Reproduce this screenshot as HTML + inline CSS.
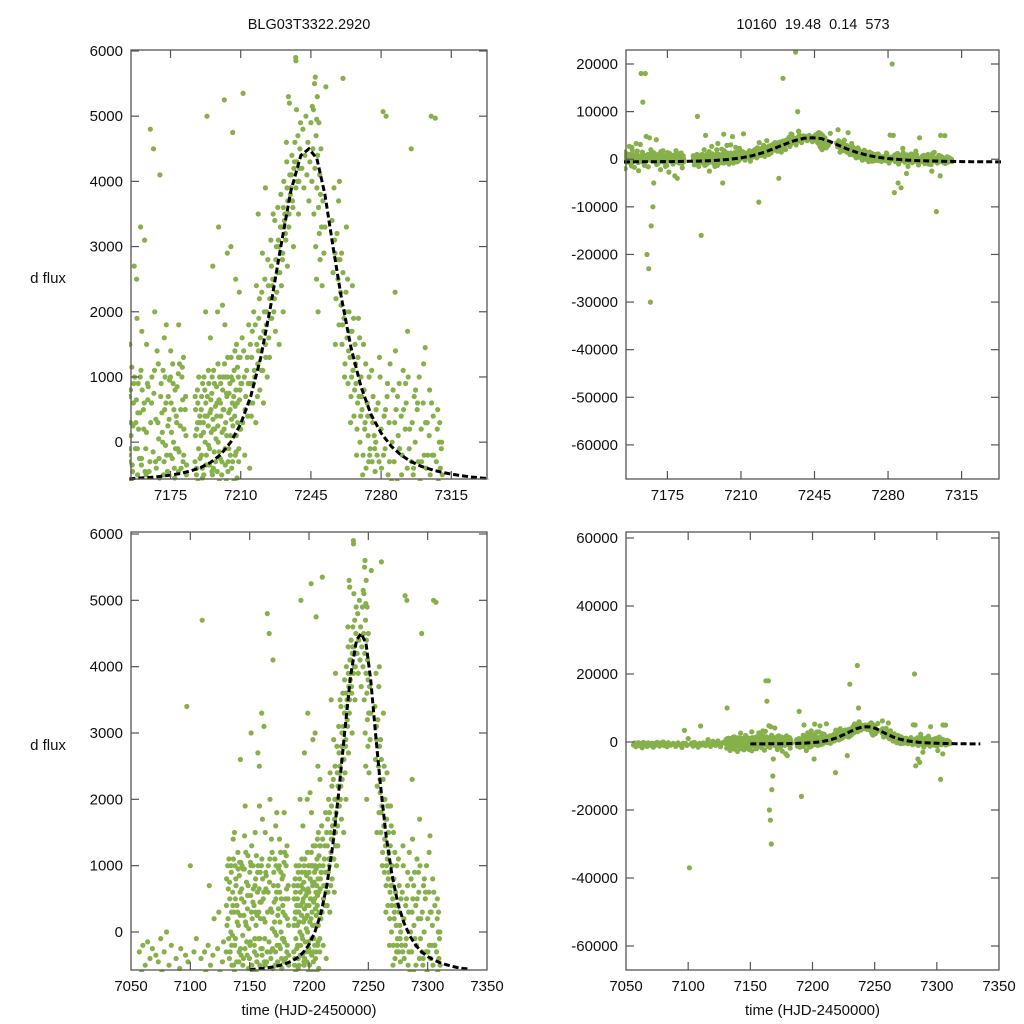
<!DOCTYPE html>
<html><head><meta charset="utf-8">
<style>
html,body{margin:0;padding:0;background:#fff;}
svg{display:block;font-family:"Liberation Sans",sans-serif;}
</style></head>
<body>
<svg id="chart" width="1024" height="1024" viewBox="0 0 1024 1024" xmlns="http://www.w3.org/2000/svg">
<rect width="1024" height="1024" fill="#fff"/>
</svg>
<script>
// ---- data: observations [time, dflux] pairs ----
const segA = [7056,-900,7057,-300,7058,-1400,7059,-600,7060,-200,7061,-1100,7062,-500,7063,-1700,7064,-150,7065,-800,7066,-400,7067,-1300,7068,-250,7069,-700,7070,-1000,7071,-350,7072,-1500,7073,-450,7074,-900,7075,-100,7076,-600,7077,-1200,7078,-300,7079,-800,7080,0,7081,-1100,7082,-500,7083,-1400,7084,-200,7085,-700,7086,-950,7088,-400,7090,-1300,7091,-550,7092,-250,7093,-850,7095,-1600,7096,-350,7097,3400,7098,-450,7099,-1000,7100,1000,7101,-37000,7102,-650,7103,-300,7104,-1200,7105,-100,7106,-800,7108,-1500,7109,-400,7110,4700,7111,-900,7112,-300,7113,-600,7114,-1100,7115,-200,7116,700,7117,-500,7118,-1300,7119,-350,7120,200,7121,-750,7122,-1000,7123,-250,7124,300,7125,-600,7126,-1400,7127,-450,7128,-150];
const segB = [7130.2,-300,7130.6,800,7131.0,-1800,7131.3,10000,7131.7,200,7132.1,-900,7132.5,1100,7132.9,-400,7133.3,500,7133.7,-2500,7134.1,0,7134.5,900,7134.9,-200,7135.3,-1300,7135.7,600,7136.1,1400,7136.5,-500,7136.9,300,7137.3,-2100,7137.7,1000,7138.1,-100,7138.5,700,7138.9,-800,7139.3,400,7139.7,-2800,7140.1,1200,7140.5,100,7140.9,-450,7141.3,850,7141.7,-1600,7142.1,250,7142.5,1050,7142.9,-350,7143.3,650,7143.7,-1100,7144.1,-50,7144.5,950,7144.9,-2300,7145.3,450,7145.7,1450,7146.1,-250,7146.5,150,7146.9,-700,7147.3,750,7147.7,-1900,7148.1,350,7148.5,1150,7148.9,-550,7149.3,50,7149.7,-1400,7150.1,900,7150.5,-150,7150.9,550,7151.3,-2600,7151.7,1300,7152.1,200,7152.5,-600,7152.9,1000,7153.3,-1200,7153.7,400,7154.1,-300,7154.5,700,7154.9,-2000,7155.3,100,7155.7,1150,7156.1,-450,7156.5,600,7156.9,2700,7157.3,-800,7157.7,300,7158.1,2500,7158.5,-100,7158.9,900,7159.3,-1700,7159.7,450,7160.1,3300,7160.5,-350,7160.9,800,7161.3,-2400,7161.7,200,7162.1,3100,7162.5,18000,7162.9,-500,7163.3,12000,7163.7,650,7164.1,-1300,7164.5,18000,7164.9,4800,7165.3,-20000,7165.7,1000,7166.1,-23000,7166.5,4500,7166.9,-30000,7167.3,-14000,7167.7,350,7168.1,-10000,7168.5,-5000,7168.9,1200,7169.3,-250,7169.7,4100,7170.1,700,7170.5,-900,7170.9,150,7171.3,1100,7171.7,-2200,7172.1,500,7172.5,-50,7172.9,1800,7173.3,-650,7173.7,250,7174.1,-1500,7174.5,950,7174.9,-200,7175.3,600,7175.7,-2700,7176.1,1200,7176.5,0,7176.9,-400,7177.3,800,7177.7,-1000,7178.1,300,7178.5,-3500,7178.9,1050,7179.3,-150,7179.7,-4000,7180.1,500,7180.5,-800,7180.9,1150,7181.3,-300,7181.7,200,7182.1,-1800,7182.5,700,7182.9,-500,
7130.4,400,7130.8,-700,7131.5,1000,7132.3,-100,7133.1,750,7133.9,-1500,7134.7,300,7135.5,-50,7136.3,1100,7137.1,-600,7137.9,500,7138.7,-1200,7139.5,150,7140.3,950,7141.1,-300,7141.9,600,7142.7,-2000,7143.5,1000,7144.3,-500,7145.1,250,7145.9,-900,7146.7,1200,7147.5,-150,7148.3,550,7149.1,-2200,7149.9,-400,7150.7,1050,7151.5,300,7152.3,-1000,7153.1,650,7153.9,-200,7154.7,1500,7155.5,-600,7156.3,250,7157.1,1000,7157.9,-1400,7158.7,450,7159.5,-250,7160.3,1100,7161.1,-700,7161.9,600,7162.7,-100,7163.5,900,7164.3,-450,7165.1,300,7165.9,-1600,7166.7,750,7167.5,-300,7168.3,1400,7169.1,50,7169.9,-1100,7170.7,450,7171.5,-500,7172.3,1000,7173.1,-200,7173.9,700,7174.7,-1300,7175.5,150,7176.3,900,7177.1,-550,7177.9,400,7178.7,-100,7179.5,1200,7180.3,-400,7181.1,650,7181.9,-900,7182.7,100,
7158.3,1900,7160.7,1700,7163.1,1500,7167.1,2000,7171.9,1600,7175.1,1400,7179.1,1800,7181.5,1300,7142.2,2600,7146.2,1900,7151.2,3000,7137.2,1500];
const segB2 = [7155.1,300,7155.9,-350,7156.7,900,7157.5,-100,7158.0,650,7158.6,-500,7159.1,200,7159.9,1000,7160.6,-250,7161.5,500,7162.3,-450,7163.0,150,7163.9,850,7164.7,-300,7165.5,600,7166.3,-150,7167.0,1100,7167.9,-400,7168.7,300,7169.5,-550,7170.3,900,7171.1,0,7171.8,-300,7172.7,600,7173.5,-450,7174.3,350,7175.0,1000,7175.9,-250,7176.7,500,7177.5,-100,7178.3,850,7179.0,-450,7179.9,250,7180.7,1000,7181.6,-200,7182.3,500,7183.0,-350,
7130.9,100,7132.0,650,7133.5,-300,7134.3,1000,7135.0,-500,7135.9,400,7137.5,-200,7138.3,800,7139.1,-450,7139.9,300,7141.5,1050,7142.3,-250,7143.1,500,7144.7,-400,7145.5,950,7147.1,100,7147.9,-350,7148.7,700,7150.3,-200,7151.1,1000,7151.9,-500,7152.7,450,7154.3,-100,7155.0,800];
const segC = [7187.2,-300,7187.5,500,7187.8,-1200,7188.1,200,7188.4,800,7188.7,-600,7189.0,-100,7189.3,9000,7189.6,400,7189.9,-1500,7190.2,100,7190.5,700,7190.8,-400,7191.1,-16000,7191.4,300,7191.7,1000,7192.0,-800,7192.3,0,7192.6,600,7192.9,-200,7193.2,5000,7193.5,-1100,7193.8,250,7194.1,900,7194.4,-350,7194.7,450,7195.0,-2500,7195.3,150,7195.6,750,7195.9,-500,7196.2,350,7196.5,1100,7196.8,-150,7197.1,-900,7197.4,550,7197.7,50,7198.0,850,7198.3,-450,7198.6,250,7198.9,-1300,7199.2,650,7199.5,1000,7199.8,-250,7200.1,400,7200.4,-700,7200.7,150,7201.0,800,7201.3,-5000,7201.6,500,7201.9,1200,7202.2,-100,7202.5,300,7202.8,-600,7203.1,700,7203.4,1000,7203.7,-300,7204.0,450,7204.3,-1000,7204.6,900,7204.9,100,7205.2,1300,7205.5,-400,7205.8,600,7206.1,250,7206.4,-800,7206.7,1100,7207.0,400,7207.3,-200,7207.6,800,7207.9,1500,7208.2,-550,7208.5,300,7208.8,1000,7209.1,-100,7209.4,650,7209.7,1300,7210.0,200,
7187.4,100,7188.0,-400,7188.6,600,7189.2,-900,7189.8,300,7190.4,-200,7191.0,900,7191.6,-500,7192.2,400,7192.8,-1300,7193.4,700,7194.0,-50,7194.6,-700,7195.2,500,7195.8,1000,7196.4,-400,7197.0,200,7197.6,-1500,7198.2,600,7198.8,0,7199.4,-600,7200.0,900,7200.6,-300,7201.2,500,7201.8,-800,7202.4,1000,7203.0,100,7203.6,-450,7204.2,750,7204.8,-200,7205.4,350,7206.0,950,7206.6,-600,7207.2,550,7207.8,100,7208.4,1150,7209.0,-300,7209.6,800,
7192.5,2000,7196.1,2700,7198.5,2000,7200.9,2100,7203.3,2900,7205.1,3000,7207.5,2500,7209.3,2300,7194.9,1600,7202.1,1800,7199.0,3300,7201.8,5250,7206.0,4750];
const segC2 = [7187.3,700,7187.9,-500,7188.5,300,7189.1,1000,7189.7,-250,7190.3,500,7190.9,-550,7191.5,150,7192.1,800,7192.7,-350,7193.3,400,7193.9,1100,7194.5,-100,7195.1,650,7195.7,-450,7196.3,200,7196.9,900,7197.5,-300,7198.1,400,7198.7,1200,7199.3,-150,7199.9,600,7200.5,-500,7201.1,1000,7201.7,200,7202.3,-350,7202.9,750,7203.5,1300,7204.1,-100,7204.7,500,7205.3,1000,7205.9,-300,7206.5,700,7207.1,1400,7207.7,-150,7208.3,600,7208.9,1300,7209.5,200,7210.1,900,7210.7,1600];
const segD = [7210.5,900,7211,300,7211.5,1400,7212,-200,7212.5,700,7213,1100,7213.5,400,7214,1800,7214.5,-400,7215,900,7215.5,1300,7216,600,7216.5,2000,7217,1000,7217.5,300,7218,1500,7218.5,-9000,7218.5,1200,7219,1900,7219.5,800,7220,1400,7220.5,2300,7221,1100,7221.5,1700,7222,2500,7222.5,1300,7223,2000,7223.5,2800,7224,1600,7224.5,2200,7225,3100,7225.5,1900,7226,2500,7226.5,2000,7227,3400,7227.5,2800,7228,-4000,7228,2300,7228.5,3600,7229,3000,7229.5,2600,7230,17000,7230,3800,7230.5,3300,7231,2900,7231.5,4000,7232,3500,7232.5,3100,7233,4300,7233.5,3700,7234,3300,7234.5,4100,7235,3900,7235.5,4400,7236,22500,7236,3600,7236.5,4200,7237,10000,7237,4600,7237.5,3900,7238,4300,7238.5,4700,7239,4000,7239.5,4500,
7212.2,500,7213.8,900,7215.3,400,7216.8,1100,7218.3,700,7219.8,1600,7221.3,600,7222.8,1800,7224.3,1300,7225.8,2400,7227.3,1700,7228.8,3100,7230.3,2400,7231.8,3400,7233.3,2700,7234.8,3800,7236.3,3000,7237.8,5100,7238.8,3500,7239.8,4900,7232.8,4600,7231.2,2000,7229.2,1500,7226.2,3500,7223.2,1000,7220.8,2900,7217.8,2400,7214.8,1500,7233.8,5300,7237.4,5900,7237.5,5850,7234.3,5200,7218.7,3500,7222.3,3900,7211.2,5350];
const segD2 = [7211.8,1000,7213.3,1300,7214.3,600,7215.8,1700,7216.3,900,7217.3,1800,7218.8,1400,7219.3,2200,7220.3,1100,7221.8,2000,7222.3,1500,7223.8,2400,7224.8,1900,7225.3,2700,7226.8,2200,7227.8,3000,7228.3,2600,7229.8,3300,7230.8,2800,7231.3,3600,7232.3,3200,7233.1,3900,7234.1,3500,7235.2,4100,7235.8,3700,7236.8,4300,7238.3,4000,7239.3,4200];
const segE = [7240.5,4200,7241,4800,7241.5,3900,7242,4400,7242.5,5000,7243,4100,7243.5,4600,7244,3700,7244.5,4300,7245,4900,7245.5,4000,7246,4500,7246.5,3500,7246.8,5500,7247,4200,7247.2,5600,7247.4,3000,7247.6,4700,7247.8,2500,7248,3900,7248.2,5300,7248.4,4400,7248.6,2000,7248.8,3600,7249,4900,7249.2,3200,7249.4,4100,7249.6,2800,7249.8,3800,7250,4500,7250.3,3300,7250.6,2400,7251,3700,7251.5,2900,7252,3300,7246.3,5100,7245.7,5150,7247.9,4950,7252.5,5450,7261,5580];
const segF = [7255.5,3400,7256,2600,7256.5,3900,7257,2900,7257.5,2200,7258,3200,7258.5,2500,7259,1800,7259.5,2800,7260,2100,7260.5,1500,7261,2600,7261.5,1900,7262,1200,7262.5,2300,7263,1600,7263.5,900,7264,2000,7264.5,1300,7265,700,7265.5,1700,7266,1100,7266.5,400,7267,1500,7267.5,900,7268,200,7268.5,1300,7269,700,7269.5,0,7270,1000,7270.5,500,7271,-200,7271.5,800,7272,300,7272.5,-400,7273,600,7273.5,100,7274,1000,7274.5,-100,7275,400,7275.5,-300,7276,700,7276.5,100,7277,-450,7277.5,500,7278,-200,
7257.2,1500,7258.8,3700,7260.3,2900,7261.8,1000,7263.3,2500,7264.8,300,7266.3,1900,7267.8,-200,7269.3,1600,7270.8,-500,7272.3,1200,7273.8,-300,7275.3,1100,7276.8,-100,7262.7,3300,7259.2,4000,7265.7,2400,7268.7,1900,7271.2,1500,7256.2,6200];
const segF2 = [7256.8,3100,7258.3,2800,7259.8,2300,7260.8,1800,7262.2,2000,7263.8,1400,7264.3,1700,7265.3,1000,7266.8,800,7267.3,1200,7268.3,600,7269.8,400,7270.3,700,7271.8,200,7273.3,400,7274.3,-200,7275.8,300,7277.3,0];
const segG = [7278.5,600,7279,-300,7279.5,1000,7280,200,7280.5,-800,7281,5070,7281.5,400,7282,20000,7282,-100,7282.5,5000,7283,-7000,7283,700,7283.5,-500,7284,300,7284.5,1200,7285,-1000,7285.5,0,7286,800,7286.5,-300,7287,2300,7287.5,500,7288,-600,7288.5,100,7289,900,7289.5,-1500,7290,400,7290.5,-200,7291,1100,7291.5,-700,7292,200,7292.5,600,7293,-400,7293.5,1000,7294,-100,7294.5,-1200,7295,4500,7295.5,300,7296,-500,7296.5,700,7297,0,7297.5,-900,7298,500,7298.5,-300,7299,1000,7299.5,-600,7300,200,7300.5,-1100,7301,600,7301.5,-200,7302,1450,7302.5,-400,7303,-11000,7303,300,7303.5,-800,7304,100,7304.5,-500,7305,5000,7305.5,-200,7306,400,7306.5,-700,7307,4970,7307.5,-300,7308,200,7308.5,-600,7309,0,7309.5,-400,7310,-100,7310.5,-500,
7279.2,1300,7281.2,-200,7283.2,900,7285.2,-600,7287.2,1400,7289.2,-100,7291.2,500,7293.2,1700,7295.2,-300,7297.2,800,7299.2,-1000,7301.2,1200,7303.3,-200,7305.2,600,7307.2,-900,7309.2,300,7284.8,-5000,7286.2,-6000,7288.8,-3000,7300.8,-2500,7304.8,-3500];
const segG2 = [7280.2,-400,7282.2,500,7284.2,-300,7286.8,300,7288.2,700,7290.2,-500,7292.2,900,7294.2,200,7296.2,-400,7298.2,600,7300.2,-300,7302.2,300,7304.2,800,7306.2,-200,7308.2,500,7310.2,0];
// model curve
const modelT = [7150,7155,7160,7165,7170,7175,7180,7185,7190,7195,7200,7205,7210,7215,7220,7225,7230,7235,7240,7244,7248,7252,7256,7260,7265,7270,7275,7280,7285,7290,7295,7300,7305,7310,7315,7320,7325,7330,7335];
const modelF = [-570,-560,-550,-540,-525,-505,-480,-440,-390,-310,-190,0,280,700,1300,2100,3000,3850,4400,4500,4350,3800,3000,2250,1450,850,420,140,-60,-200,-300,-370,-420,-460,-490,-515,-535,-550,-560];
// ticks
const ticksXTop = [7175,7210,7245,7280,7315];
const ticksXBot = [7050,7100,7150,7200,7250,7300,7350];
const ticksYLeft = [0,1000,2000,3000,4000,5000,6000];
const ticksYTR = [-60000,-50000,-40000,-30000,-20000,-10000,0,10000,20000];
const ticksYBR = [-60000,-40000,-20000,0,20000,40000,60000];

const NS = "http://www.w3.org/2000/svg";
const svg = document.getElementById('chart');
function mk(tag, attrs, parent){const e=document.createElementNS(NS,tag);for(const k in attrs)e.setAttribute(k,attrs[k]);(parent||svg).appendChild(e);return e;}
const allSegs=[segA,segB,segB2,segC,segC2,segD,segD2,segE,segF,segF2,segG,segG2];

const panels = [
 {id:'top-left',x0:131,x1:487,y0:50,y1:479,tx:[7155.3,7332.8],ty:[-565,6015],xt:ticksXTop,yt:ticksYLeft,xlabel:false},
 {id:'top-right',x0:626,x1:999,y0:50,y1:479,tx:[7155.3,7332.8],ty:[-67160,22940],xt:ticksXTop,yt:ticksYTR,xlabel:false},
 {id:'bottom-left',x0:131,x1:487,y0:532,y1:970,tx:[7050,7350],ty:[-573,6030],xt:ticksXBot,yt:ticksYLeft,xlabel:true},
 {id:'bottom-right',x0:626,x1:999,y0:532,y1:970,tx:[7050,7350],ty:[-67060,61760],xt:ticksXBot,yt:ticksYBR,xlabel:true}
];

panels.forEach((p,pi)=>{
  const g=mk('g',{});
  
  
  const sx=t=>p.x0+(t-p.tx[0])/(p.tx[1]-p.tx[0])*(p.x1-p.x0);
  const sy=f=>p.y1-(f-p.ty[0])/(p.ty[1]-p.ty[0])*(p.y1-p.y0);
  const cp=mk('clipPath',{id:'clip'+pi},g);
  mk('rect',{x:p.x0-2,y:p.y0-2,width:p.x1-p.x0+4,height:p.y1-p.y0+4},cp);
  const pts=mk('g',{'clip-path':'url(#clip'+pi+')',fill:'#86b04a'},g);
  
  
  allSegs.forEach(seg=>{
    for(let i=0;i<seg.length;i+=2){
      const x=sx(seg[i]), y=sy(seg[i+1]);
      if(x<p.x0-3||x>p.x1+3||y<p.y0-3||y>p.y1+3) continue;
      const c=mk('circle',{cx:x.toFixed(1),cy:y.toFixed(1),r:2.6},pts);
      
      
    }
  });
  let d='';
  modelT.forEach((t,i)=>{d+=(i?'L':'M')+sx(t).toFixed(1)+' '+sy(modelF[i]).toFixed(1);});
  const cv=mk('path',{d:d,fill:'none',stroke:'#000','stroke-width':3,'stroke-dasharray':'6 3','clip-path':'url(#clip'+pi+')'},g);
  
  
  const fr=mk('rect',{x:p.x0,y:p.y0,width:p.x1-p.x0,height:p.y1-p.y0,fill:'none',stroke:'#555','stroke-width':1.3},g);
  
  
  p.xt.forEach(t=>{
    const x=sx(t);
    if(x>p.x0+1&&x<p.x1-1){
      mk('line',{x1:x,y1:p.y1,x2:x,y2:p.y1-8,stroke:'#555','stroke-width':1.2},g);
      mk('line',{x1:x,y1:p.y0,x2:x,y2:p.y0+8,stroke:'#555','stroke-width':1.2},g);
    }
    const tl=mk('text',{x:x,y:p.y1+21,'text-anchor':'middle','font-size':15,fill:'#111'},g);
    tl.textContent=t;
    
    
  });
  p.yt.forEach(v=>{
    const y=sy(v);
    mk('line',{x1:p.x0,y1:y,x2:p.x0+8,y2:y,stroke:'#555','stroke-width':1.2},g);
    mk('line',{x1:p.x1,y1:y,x2:p.x1-8,y2:y,stroke:'#555','stroke-width':1.2},g);
    const tl=mk('text',{x:p.x0-8,y:y+5,'text-anchor':'end','font-size':15,fill:'#111'},g);
    tl.textContent=v;
    
    
  });
  if(p.xlabel){
    const xl=mk('text',{x:(p.x0+p.x1)/2,y:1015,'text-anchor':'middle','font-size':15,fill:'#111'},g);
    xl.textContent='time (HJD-2450000)';
    
    
  }
});
const lbls=[[48,283],[48,750]];
lbls.forEach(l=>{
  const t=mk('text',{x:l[0],y:l[1],'text-anchor':'middle','font-size':15,fill:'#111'});
  t.textContent='d flux';
  
  
});
const t1=mk('text',{x:309,y:29,'text-anchor':'middle','font-size':14.5,fill:'#111'});
t1.textContent='BLG03T3322.2920';


const t2=mk('text',{x:813,y:29,'text-anchor':'middle','font-size':14.5,fill:'#111'});
t2.setAttribute('style','white-space:pre');
t2.textContent='10160  19.48  0.14  573';


</script>
</body></html>
